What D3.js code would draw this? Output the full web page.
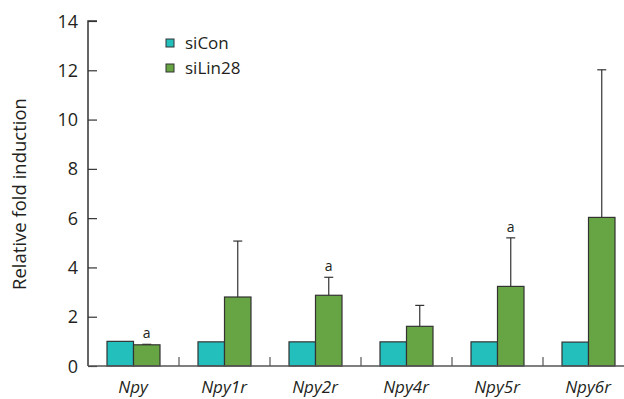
<!DOCTYPE html>
<html>
<head>
<meta charset="utf-8">
<title></title>
<style>
  body { margin: 0; background: #fff; }
  text { font-family: "Open Sans", "Noto Sans", sans-serif; fill: #231f20; }
</style>
</head>
<body>
<script src="https://d3js.org/d3.v7.min.js"></script>
<script type="text/javascript">

var genes = ["Npy", "Npy1r", "Npy2r", "Npy4r", "Npy5r", "Npy6r"];
var series = ["siCon", "siLin28"];
var siCon = [1.0, 0.98, 0.98, 0.98, 0.98, 0.97];
var siLin28 = [0.86, 2.8, 2.87, 1.61, 3.23, 6.03];
var siLin28Err = [0.02, 2.27, 0.73, 0.85, 1.97, 5.99];
var marks = ["a", "", "a", "", "a", ""];
var yTicks = [0, 2, 4, 6, 8, 10, 12, 14];
var colors = ["#22bfbd", "#67a443"];

var width = 624,
    height = 399;

var x = d3.scaleBand().domain(genes).range([88, 634]);
var inner = d3.scaleBand().domain(series).range([19, 72]);
var y = d3.scaleLinear().domain([0, 14]).range([366, 21]);

var svg = d3.select("body").append("svg").attr("width", width).attr("height", height);

// bars
var g = svg.selectAll("g.grp")
  .data(genes)
  .enter().append("g")
  .attr("class", "grp")
  .attr("transform", function(d) { return "translate(" + x(d) + ",0)"; });

g.append("rect")
  .attr("x", inner("siCon"))
  .attr("y", function(d, i) { return y(siCon[i]); })
  .attr("width", inner.bandwidth())
  .attr("height", function(d, i) { return y(0) - y(siCon[i]); })
  .style("fill", colors[0])
  .style("stroke", "#333")
  .style("stroke-width", 1.2);

// error bars first so bar outline sits on top
g.append("line")
  .attr("x1", inner("siLin28") + inner.bandwidth() / 2)
  .attr("x2", inner("siLin28") + inner.bandwidth() / 2)
  .attr("y1", function(d, i) { return y(siLin28[i]); })
  .attr("y2", function(d, i) { return y(siLin28[i] + siLin28Err[i]); })
  .style("stroke", "#333").style("stroke-width", 1.2);

g.append("line")
  .attr("x1", inner("siLin28") + inner.bandwidth() / 2 - 4.5)
  .attr("x2", inner("siLin28") + inner.bandwidth() / 2 + 4.5)
  .attr("y1", function(d, i) { return y(siLin28[i] + siLin28Err[i]); })
  .attr("y2", function(d, i) { return y(siLin28[i] + siLin28Err[i]); })
  .style("stroke", "#333").style("stroke-width", 1.2);

g.append("rect")
  .attr("x", inner("siLin28"))
  .attr("y", function(d, i) { return y(siLin28[i]); })
  .attr("width", inner.bandwidth())
  .attr("height", function(d, i) { return y(0) - y(siLin28[i]); })
  .style("fill", colors[1])
  .style("stroke", "#333")
  .style("stroke-width", 1.2);

g.append("text")
  .attr("x", inner("siLin28") + inner.bandwidth() / 2)
  .attr("y", function(d, i) { return y(siLin28[i] + siLin28Err[i]) - 6; })
  .attr("text-anchor", "middle")
  .style("font-size", "14px")
  .text(function(d, i) { return marks[i]; });

// y axis
var yAxis = d3.axisRight(y).tickValues(yTicks).tickSize(9).tickFormat("");
var ya = svg.append("g").attr("transform", "translate(88,0)").call(yAxis);
ya.select(".domain").attr("d", "M9,21H0V366").style("stroke", "#333").style("stroke-width", 1.5);
ya.selectAll(".tick line").style("stroke", "#333").style("stroke-width", 1.2);

svg.selectAll("text.ytick")
  .data(yTicks)
  .enter().append("text")
  .attr("class", "ytick")
  .attr("x", 78)
  .attr("y", function(d) { return y(d) + 6.5; })
  .attr("text-anchor", "end")
  .style("font-size", "18px")
  .text(function(d) { return d; });

// x axis
var xa = svg.append("g").attr("transform", "translate(0,366)")
  .call(d3.axisBottom(x).tickSize(0).tickFormat(""));
xa.select(".domain").attr("d", "M88,0H624").style("stroke", "#555").style("stroke-width", 1.5);

svg.selectAll("line.sep")
  .data(genes.slice(1))
  .enter().append("line")
  .attr("class", "sep")
  .attr("x1", function(d) { return x(d); })
  .attr("x2", function(d) { return x(d); })
  .attr("y1", 357).attr("y2", 366)
  .style("stroke", "#555").style("stroke-width", 1.2);

svg.selectAll("text.xlab")
  .data(genes)
  .enter().append("text")
  .attr("class", "xlab")
  .attr("x", function(d) { return x(d) + 45; })
  .attr("y", 393)
  .attr("text-anchor", "middle")
  .style("font-size", "17px")
  .style("font-style", "italic")
  .text(function(d) { return d; });

// y label
svg.append("text")
  .attr("transform", "translate(26,194) rotate(-90)")
  .attr("text-anchor", "middle")
  .style("font-size", "18.5px")
  .text("Relative fold induction");

// legend
var lg = svg.selectAll("g.leg")
  .data(series)
  .enter().append("g")
  .attr("class", "leg")
  .attr("transform", function(d, i) { return "translate(166," + (39 + i * 25) + ")"; });

lg.append("rect")
  .attr("width", 8).attr("height", 8)
  .style("fill", function(d, i) { return colors[i]; })
  .style("stroke", "#333").style("stroke-width", 1);

lg.append("text")
  .attr("x", 19).attr("y", 9.5)
  .style("font-size", "17px")
  .text(function(d) { return d; });

</script>
</body>
</html>
